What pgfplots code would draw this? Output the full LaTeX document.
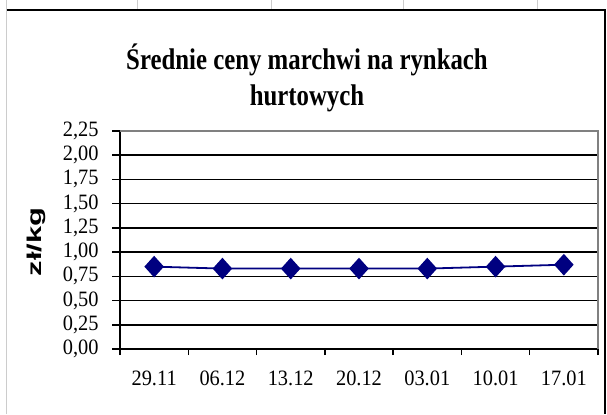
\documentclass[border=0pt]{standalone}
\usepackage{fontspec}
\setmainfont{Liberation Serif}
\newfontfamily\titlefont{Liberation Serif}[FakeStretch=0.83]
\newfontfamily\ticksfont{Liberation Serif}[FakeStretch=0.93]
\newfontfamily\labfont{Liberation Sans}[FakeStretch=1.55]
\usepackage{pgfplots}
\pgfplotsset{compat=1.18}
\definecolor{navy}{HTML}{000080}
\begin{document}
\begin{tikzpicture}[x=1bp,y=1bp]
\useasboundingbox (0,0) rectangle (607,414);
\fill[white] (0,0) rectangle (607,414);
\draw[gray!40, line width=1.5bp] (6.5,0) -- (6.5,414);
\foreach \xx in {137,271,403,537} \draw[gray!40,line width=1bp] (\xx,404)--(\xx,414);
\draw[black,line width=2bp] (6.5,404) -- (605,404) -- (605,0);
\node[anchor=base, font=\titlefont\bfseries\fontsize{30}{32}\selectfont] at (307,345) {Średnie ceny marchwi na rynkach};
\node[anchor=base, font=\titlefont\bfseries\fontsize{30}{32}\selectfont] at (307,309) {hurtowych};
\node[rotate=90, font=\labfont\bfseries\fontsize{20}{20}\selectfont] at (36,172) {zł/kg};
\begin{axis}[at={(120bp,65bp)}, anchor=south west, scale only axis,
  width=478bp, height=218bp,
  xmin=-0.5, xmax=6.5, ymin=0, ymax=2.25,
  axis x line*=bottom, axis y line*=left,
  axis line style={line width=1.5bp, -},
  xtick={0,...,6},
  xticklabels={29.11,06.12,13.12,20.12,03.01,10.01,17.01},
  major x tick style={draw=none},
  minor xtick={-0.5,0.5,1.5,2.5,3.5,4.5,5.5,6.5},
  minor x tick style={black, line width=1.5bp},
  minor tick length=6bp,
  ytick={0,0.25,0.5,0.75,1,1.25,1.5,1.75,2,2.25},
  major y tick style={black, line width=1.5bp},
  major tick length=8bp,
  tick align=outside,
  ymajorgrids,
  major grid style={black, line width=1.6bp},
  yticklabel style={xshift=-10bp, /pgf/number format/.cd, fixed, fixed zerofill, precision=2, use comma, assume math mode=true},
  tick label style={font=\ticksfont\fontsize{22}{22}\selectfont},
  xticklabel style={anchor=base, yshift=-28bp},
  clip=false,
]
\addplot[navy, line width=1.8bp, mark=diamond*, mark size=9.5bp, mark options={xscale=1.2, solid, fill=navy}]
  coordinates {(0,0.85) (1,0.83) (2,0.83) (3,0.83) (4,0.83) (5,0.85) (6,0.87)};
\draw[gray, line width=2bp] (rel axis cs:0,1) -- (rel axis cs:1,1) -- (rel axis cs:1,0);
\end{axis}
\end{tikzpicture}
\end{document}
